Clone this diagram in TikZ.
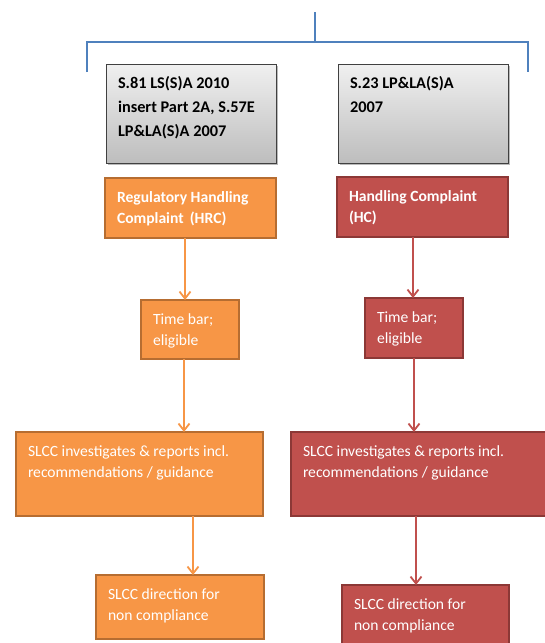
\documentclass[tikz,border=0pt]{standalone}
\usepackage{fontspec}
\setmainfont{Carlito}
\usepackage{tikz}
\usetikzlibrary{arrows.meta,shadows}
\definecolor{bracket}{HTML}{4F81BD}
\definecolor{hrcfill}{HTML}{F79646}
\definecolor{hrcline}{HTML}{B66D31}
\definecolor{hcfill}{HTML}{C0504D}
\definecolor{hcline}{HTML}{8C3836}
\definecolor{lawtop}{HTML}{F0F0F0}
\definecolor{lawbot}{HTML}{BDBDBD}
% text block: width, height, lines (first baseline 24pt below the top)
\newcommand{\boxtxt}[3]{\parbox[t][#2][t]{#1}{\raggedright\rule{0pt}{24pt}#3}}

\begin{document}
\begin{tikzpicture}[
  x=1pt,y=-1pt,
  base/.style={anchor=north west,inner xsep=12pt,inner ysep=0pt,outer sep=0pt},
  law/.style={base,draw=black!75,line width=0.9pt,top color=lawtop,bottom color=lawbot,
    drop shadow={shadow xshift=2pt,shadow yshift=-2pt,fill=black!60,opacity=.45},
    font=\fontsize{16.3}{24}\selectfont\bfseries},
  hrcbox/.style={base,draw=hrcline,fill=hrcfill,line width=1.6pt,text=white,font=\fontsize{15.6}{21.5}\selectfont},
  hcbox/.style={base,draw=hcline,fill=hcfill,line width=1.6pt,text=white,font=\fontsize{15.6}{21.5}\selectfont},
  flA/.style={-{Straight Barb[length=7pt,width=11pt]},hrcfill,line width=1.8pt},
  flB/.style={-{Straight Barb[length=7pt,width=11pt]},hcfill,line width=1.8pt},
  brk/.style={bracket,line width=1.1pt},
]
\useasboundingbox (0,0) rectangle (545,643);
% bracket on top
\coordinate (stem) at (315,12);
\coordinate (brL) at (87,72);
\coordinate (brR) at (528,72);
\draw[brk] (stem) -- (stem |- 0,42);
\draw[brk] (brL) -- (brL |- 0,42) -- (brR |- 0,42) -- (brR);
% legal basis
\node[law] (lawA) at (106,64) {\boxtxt{146pt}{99pt}{S.81 LS(S)A 2010\\insert Part 2A, S.57E\\LP\&LA(S)A 2007}};
\node[law] (lawB) at (338,64) {\boxtxt{146pt}{99pt}{S.23 LP\&LA(S)A\\2007}};
% left column
\node[hrcbox] (hrc) at (105,178) {\boxtxt{147pt}{60pt}{\textbf{Regulatory Handling}\\\textbf{Complaint\, (HRC)}}};
\node[hrcbox] (barA) at (141,300) {\boxtxt{74pt}{59pt}{Time bar;\\eligible}};
\node[hrcbox] (invA) at (16,432) {\boxtxt{223pt}{84pt}{SLCC investigates \& reports incl.\\recommendations / guidance}};
\node[hrcbox] (dirA) at (96,575) {\boxtxt{144pt}{64pt}{SLCC direction for\\non compliance}};
% right column
\node[hcbox] (hc) at (337,177) {\boxtxt{147pt}{60pt}{\textbf{Handling Complaint}\\\textbf{(HC)}}};
\node[hcbox] (barB) at (365,298) {\boxtxt{74pt}{60pt}{Time bar;\\eligible}};
\node[hcbox] (invB) at (291,432) {\boxtxt{236pt}{84pt}{SLCC investigates \& reports incl.\\recommendations / guidance}};
\node[hcbox] (dirB) at (342,585) {\boxtxt{143pt}{64pt}{SLCC direction for\\non compliance}};
% flow
\draw[flA] ([xshift=-5.5pt]hrc.south) -- ([xshift=-5.5pt]hrc.south |- barA.north);
\draw[flA] ([xshift=-6pt]barA.south) -- ([xshift=-6pt]barA.south |- invA.north);
\draw[flA] ([xshift=13pt]dirA.north |- invA.south) -- ([xshift=13pt]dirA.north);
\draw[flB] ([xshift=-9.5pt]hc.south) -- ([xshift=-9.5pt]hc.south |- barB.north);
\draw[flB] (barB.south) -- (barB.south |- invB.north);
\draw[flB] ([xshift=-9.5pt]dirB.north |- invB.south) -- ([xshift=-9.5pt]dirB.north);
\end{tikzpicture}
\end{document}
